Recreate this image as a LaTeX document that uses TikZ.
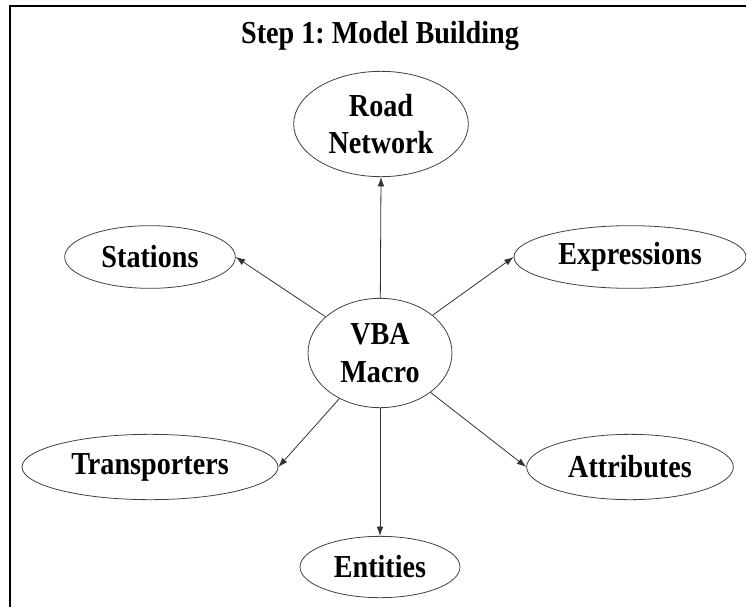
\documentclass[tikz,border=0pt]{standalone}
\usepackage{fontspec}
\setmainfont{Liberation Serif}[FakeStretch=0.88]
\usepackage{tikz}
\usetikzlibrary{arrows.meta,shapes.geometric,positioning}
\frenchspacing

\begin{document}
\begin{tikzpicture}[x=0.75pt,y=-0.75pt,
  bubble/.style={draw=black!75, line width=0.6pt, ellipse, inner sep=0pt,
    align=center, font=\fontsize{24}{28}\selectfont\bfseries},
  link/.style={draw=black!80, line width=0.6pt, -{Latex[length=7pt,width=5pt]}}]
\useasboundingbox (0,0) rectangle (746,607);
\draw[line width=1.5pt] (10,607) -- (10,6) -- (746,6);
\node[font=\fontsize{24}{28}\selectfont\bfseries] (title) at (380,36) {Step 1: Model Building};
\node[bubble, minimum width=131pt, minimum height=79pt] (road) at (381,124) {Road\\Network};
\node[bubble, minimum width=108pt, minimum height=82pt] (vba) at (380,353) {VBA\\Macro};
\node[bubble, minimum width=128pt, minimum height=47pt] (stations) at (150,257) {Stations};
\node[bubble, minimum width=174pt, minimum height=47pt] (expr) at (630,257) {Expressions};
\node[bubble, minimum width=192pt, minimum height=49pt] (trans) at (150,467) {Transporters};
\node[bubble, minimum width=155pt, minimum height=49pt] (attr) at (630,467) {Attributes};
\node[bubble, minimum width=120pt, minimum height=46pt] (ent) at (380,567) {Entities};
\draw[link] (vba) -- (road.south);
\draw[link] (vba) -- (stations.east);
\draw[link] (vba) -- (expr.west);
\draw[link] (vba) -- (trans.east);
\draw[link] (vba) -- (attr.west);
\draw[link] (vba) -- (ent.north);
\end{tikzpicture}
\end{document}
